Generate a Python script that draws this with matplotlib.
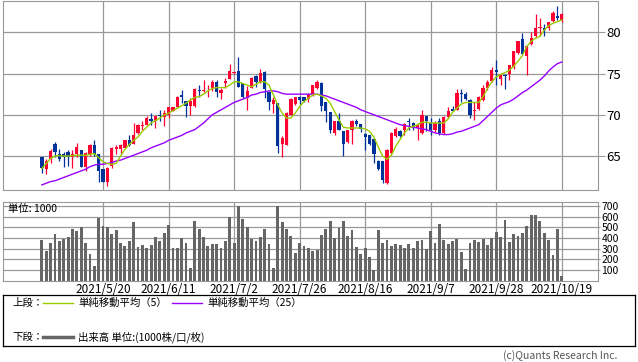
import numpy as np
import pandas as pd
import matplotlib
matplotlib.use("Agg")
import matplotlib.pyplot as plt

plt.rcParams['font.family'] = ['Noto Sans CJK JP', 'DejaVu Sans']

# trading days 2021/4/30 - 2021/10/19 (US market calendar)
holidays = ['2021-05-31', '2021-07-05', '2021-09-06']
dates = pd.bdate_range('2021-04-30', '2021-10-19').drop(pd.to_datetime(holidays))

opens = [64.9, 63.4, 64.6, 66.5, 65.3, 65.2, 65.5, 64.9, 65.3, 65.7,
         63.7, 65.3, 66.3, 65.3, 63.4, 61.8, 63.8, 65.9, 65.9, 66.0,
         66.9, 66.5, 67.8, 68.6, 68.8, 69.5, 69.2, 70.0, 69.7, 70.0,
         70.5, 71.0, 72.4, 71.7, 71.1, 71.1, 73.0, 72.9, 73.2, 73.2,
         74.0, 72.7, 73.9, 74.4, 75.1, 75.3, 73.9, 72.0, 73.3, 74.7,
         74.0, 75.2, 72.8, 71.3, 71.4, 66.5, 66.3, 70.0, 71.3, 72.2,
         72.2, 71.9, 72.5, 73.3, 73.8, 71.6, 70.3, 67.8, 69.2, 68.0,
         66.7, 68.2, 69.3, 68.9, 67.7, 67.5, 67.1, 64.4, 64.4, 61.7,
         65.4, 67.4, 68.0, 68.2, 69.3, 69.0, 68.4, 67.8, 69.8, 69.0,
         68.2, 69.2, 67.8, 69.7, 70.7, 70.6, 72.6, 72.5, 71.8, 70.5,
         70.7, 71.8, 73.2, 74.1, 75.4, 74.3, 74.8, 75.0, 75.8, 77.5,
         79.2, 77.1, 78.6, 79.5, 80.5, 80.5, 80.5, 81.4, 82.0, 81.5]
highs = [64.9, 64.7, 65.8, 66.7, 65.9, 65.5, 65.7, 65.7, 66.6, 65.7,
         65.5, 66.4, 66.9, 65.3, 63.4, 63.7, 66.1, 66.3, 66.5, 67.0,
         67.5, 69.0, 68.9, 69.2, 69.8, 70.2, 69.9, 70.6, 70.6, 71.0,
         71.0, 72.3, 73.0, 71.7, 72.0, 73.2, 73.6, 74.2, 73.6, 74.2,
         74.2, 73.3, 74.5, 76.2, 75.3, 77.0, 73.9, 73.5, 74.6, 74.8,
         75.5, 75.3, 72.8, 72.2, 71.4, 67.4, 70.3, 72.0, 72.1, 72.3,
         72.2, 72.6, 73.6, 74.2, 74.0, 71.6, 70.3, 69.2, 70.2, 68.0,
         68.2, 69.4, 69.5, 68.9, 67.8, 67.5, 67.1, 64.5, 64.4, 65.9,
         67.9, 68.5, 68.1, 69.0, 69.6, 69.1, 69.0, 70.6, 69.8, 69.6,
         69.3, 69.6, 69.8, 71.0, 71.1, 73.1, 73.1, 72.8, 71.9, 71.6,
         72.3, 73.6, 74.2, 75.8, 76.6, 74.9, 74.9, 76.0, 77.7, 79.0,
         79.9, 78.3, 80.1, 82.2, 81.7, 81.0, 81.3, 82.6, 83.2, 82.3]
lows = [63.0, 62.8, 64.1, 64.9, 64.4, 63.7, 63.8, 63.6, 64.9, 63.7,
        63.2, 65.0, 65.0, 61.8, 61.8, 61.4, 63.5, 65.2, 65.2, 66.0,
        66.2, 66.4, 67.7, 68.2, 68.8, 68.8, 68.4, 69.2, 68.6, 69.6,
        70.4, 70.9, 71.4, 69.7, 70.0, 71.0, 72.2, 72.8, 72.2, 72.9,
        72.2, 71.9, 73.3, 74.4, 74.9, 73.4, 72.0, 70.6, 73.2, 73.4,
        73.8, 72.0, 70.6, 70.2, 65.4, 64.9, 66.3, 70.0, 71.2, 71.3,
        71.5, 71.6, 72.3, 73.1, 70.4, 69.1, 67.8, 67.5, 68.1, 65.0,
        66.6, 66.5, 68.7, 67.9, 65.7, 66.3, 64.1, 63.3, 61.7, 61.6,
        65.2, 67.3, 67.3, 67.5, 68.2, 68.2, 67.0, 67.7, 68.0, 67.6,
        67.9, 67.6, 67.7, 69.6, 70.4, 70.6, 71.6, 71.8, 69.6, 69.4,
        70.6, 71.7, 73.0, 74.0, 73.6, 73.6, 73.1, 74.2, 75.6, 77.4,
        77.3, 74.8, 78.5, 79.4, 79.6, 79.5, 80.3, 81.2, 81.5, 81.2]
closes = [63.5, 64.4, 65.6, 65.5, 64.6, 64.9, 64.9, 65.2, 66.1, 63.7,
          65.4, 66.3, 65.3, 63.2, 61.8, 63.6, 66.0, 66.1, 66.3, 66.9,
          66.3, 67.6, 68.8, 68.8, 69.6, 69.2, 69.9, 69.9, 70.2, 70.9,
          70.9, 72.1, 72.1, 71.1, 71.7, 73.1, 72.9, 73.0, 73.3, 74.0,
          72.8, 73.0, 74.1, 75.3, 75.2, 73.4, 72.1, 72.9, 74.5, 74.0,
          75.1, 73.1, 71.6, 71.8, 66.2, 67.2, 70.2, 71.9, 72.1, 71.8,
          71.7, 72.5, 73.6, 74.0, 71.1, 70.4, 68.1, 69.2, 68.2, 66.4,
          68.2, 69.3, 68.9, 68.3, 67.3, 66.5, 65.3, 63.4, 62.1, 65.7,
          67.8, 68.3, 67.4, 68.9, 69.1, 68.4, 68.8, 70.0, 69.2, 68.2,
          69.0, 67.8, 69.7, 70.4, 70.5, 72.6, 72.5, 71.9, 70.0, 70.6,
          72.2, 73.3, 74.0, 75.4, 75.2, 74.9, 74.7, 76.0, 77.7, 79.0,
          77.4, 78.3, 79.3, 80.5, 80.6, 80.3, 81.2, 82.3, 81.7, 82.2]

# simple moving averages as drawn on the chart
ma5 = [63.5, 64.1, 64.7, 65.0, 65.05, 65.0, 65.0, 65.05, 65.1, 65.1,
       65.1, 65.2, 65.3, 64.8, 64.3, 64.1, 64.0, 64.1, 65.0, 65.8,
       66.4, 66.9, 67.3, 68.0, 68.5, 69.0, 69.3, 69.6, 70.0, 70.2,
       70.5, 70.8, 71.1, 71.4, 71.8, 72.1, 72.2, 72.5, 72.9, 73.2,
       73.3, 73.3, 73.3, 73.6, 74.0, 74.0, 73.8, 73.6, 73.4, 73.7,
       74.0, 74.0, 73.6, 72.4, 71.2, 70.2, 69.6, 69.6, 70.2, 71.0,
       71.6, 72.0, 72.4, 72.5, 72.3, 72.0, 71.4, 70.4, 69.4, 68.5,
       68.4, 68.4, 68.4, 68.4, 68.3, 68.0, 67.3, 66.1, 65.0, 64.6,
       65.1, 66.2, 67.0, 67.8, 68.4, 68.6, 68.8, 69.1, 69.1, 69.0,
       69.0, 69.0, 69.0, 69.5, 70.3, 70.8, 71.3, 71.5, 71.5, 71.5,
       71.5, 72.2, 73.2, 74.0, 74.6, 74.9, 75.1, 75.4, 75.9, 76.5,
       77.2, 78.3, 78.9, 79.3, 79.5, 80.3, 80.8, 81.1, 81.3, 81.5]
ma25 = [61.5, 61.7, 61.9, 62.0, 62.2, 62.4, 62.6, 62.8, 63.0, 63.2,
        63.4, 63.7, 63.9, 64.0, 64.0, 64.1, 64.2, 64.4, 64.5, 64.7,
        64.9, 65.1, 65.3, 65.5, 65.7, 66.0, 66.2, 66.4, 66.6, 66.9,
        67.1, 67.3, 67.5, 67.8, 68.0, 68.2, 68.6, 69.0, 69.5, 70.0,
        70.3, 70.6, 70.9, 71.2, 71.5, 71.7, 71.9, 72.1, 72.4, 72.5,
        72.7, 72.8, 72.9, 72.9, 72.8, 72.6, 72.5, 72.5, 72.5, 72.5,
        72.5, 72.5, 72.5, 72.5, 72.4, 72.3, 72.1, 71.9, 71.7, 71.5,
        71.3, 71.1, 70.9, 70.6, 70.4, 70.2, 70.0, 69.8, 69.6, 69.4,
        69.2, 69.0, 68.8, 68.7, 68.6, 68.5, 68.4, 68.3, 68.2, 68.0,
        67.8, 67.7, 67.6, 67.6, 67.7, 67.9, 68.0, 68.2, 68.4, 68.6,
        68.8, 69.3, 69.8, 70.3, 70.8, 71.2, 71.4, 71.6, 71.9, 72.3,
        72.7, 73.0, 73.4, 73.8, 74.2, 74.7, 75.3, 75.8, 76.2, 76.4]

# volume, unit: 1000
volume = [381, 272, 356, 437, 372, 391, 409, 484, 466, 503,
          356, 250, 137, 590, 512, 503, 437, 475, 356, 325,
          372, 550, 316, 334, 306, 334, 409, 372, 447, 522,
          306, 306, 400, 356, 119, 559, 484, 409, 325, 344,
          344, 306, 372, 597, 356, 694, 578, 497, 391, 366,
          409, 484, 344, 119, 694, 550, 484, 419, 262, 356,
          325, 303, 278, 288, 428, 484, 559, 397, 494, 559,
          419, 475, 316, 250, 306, 222, 100, 475, 353, 381,
          325, 344, 334, 306, 344, 306, 372, 381, 297, 466,
          353, 531, 381, 344, 372, 391, 269, 109, 353, 381,
          363, 391, 334, 400, 456, 409, 569, 363, 438, 419,
          447, 513, 616, 616, 559, 447, 381, 241, 484, 44]

price_ticks = [65, 70, 75, 80]
vol_ticks = [100, 200, 300, 400, 500, 600, 700]

UP, DOWN = '#ff0033', '#003399'
GRID = '#999999'

W, H = 638, 362
fig = plt.figure(figsize=(W / 100, H / 100), dpi=100)


def box(x0, y0, x1, y1):
    return [x0 / W, 1 - y1 / H, (x1 - x0) / W, (y1 - y0) / H]


o, h, l, c = map(np.array, (opens, highs, lows, closes))
x = np.arange(len(dates))
tick_idx = list(range(14, len(dates), 15))
tick_lab = [f"{d.year}/{d.month}/{d.day}" for d in dates[tick_idx]]

# --- price panel
ax = fig.add_axes(box(3, 1, 598, 190))
col = np.where(c >= o, UP, DOWN)
ax.vlines(x, l, h, colors=col, lw=0.9, zorder=2)
ax.bar(x, np.maximum(np.abs(c - o), 0.08), bottom=np.minimum(o, c),
       width=0.75, color=col, linewidth=0, zorder=2)
ax.plot(x, ma25, color='#9900ff', lw=1.0, zorder=3)
ax.plot(x, ma5, color='#99cc00', lw=1.0, zorder=3)
ax.set_xlim(-8.9, 127.3)
ax.set_ylim(60.88, 83.8)
ax.yaxis.tick_right()
ax.set_yticks(price_ticks)
ax.set_xticks(tick_idx)
ax.tick_params(axis='x', length=0, labelbottom=False)
ax.tick_params(axis='y', length=5, color=GRID, labelsize=9.5, pad=1)
ax.grid(color=GRID, lw=0.9)
ax.set_axisbelow(True)
for s in ax.spines.values():
    s.set_color(GRID)

# --- volume panel
axv = fig.add_axes(box(3, 202, 598, 280.5))
axv.bar(x, volume, width=0.65, color='#666666', linewidth=0, zorder=2)
axv.set_xlim(-8.9, 127.3)
axv.set_ylim(0, 736)
axv.yaxis.tick_right()
axv.set_yticks(vol_ticks)
axv.set_xticks(tick_idx, tick_lab)
axv.tick_params(axis='x', length=0, labelsize=8.5, pad=1.5)
axv.tick_params(axis='y', length=1.5, color=GRID, labelsize=7.5, pad=1)
axv.grid(color=GRID, lw=0.9)
axv.set_axisbelow(True)
for s in axv.spines.values():
    s.set_color(GRID)
fig.text(8 / W, 1 - 209 / H, '単位: 1000', fontsize=7.5, va='center')

# --- legend box
axl = fig.add_axes(box(3, 295, 635, 346))
axl.set_xlim(0, 632)
axl.set_ylim(51, 0)
axl.set_xticks([])
axl.set_yticks([])
for s in axl.spines.values():
    s.set_color('black')
    s.set_linewidth(0.9)
axl.text(9, 8, '上段：', fontsize=7.5, va='center')
axl.plot([40, 70], [8, 8], color='#99cc00', lw=1.0)
axl.text(75, 8, '単純移動平均（5）', fontsize=7.5, va='center')
axl.plot([169, 199], [8, 8], color='#9900ff', lw=1.0)
axl.text(204, 8, '単純移動平均（25）', fontsize=7.5, va='center')
axl.text(9, 42, '下段：', fontsize=7.5, va='center')
axl.plot([40, 70], [42, 42], color='#666666', lw=2.5)
axl.text(75, 42, '出来高 単位:(1000株/口/枚)', fontsize=7.5, va='center')

fig.text(617 / W, 1 - 356 / H, '(c)Quants Research Inc.', ha='right',
         va='center', fontsize=7.5, color='#555555')

fig.savefig('out.png', dpi=100)
